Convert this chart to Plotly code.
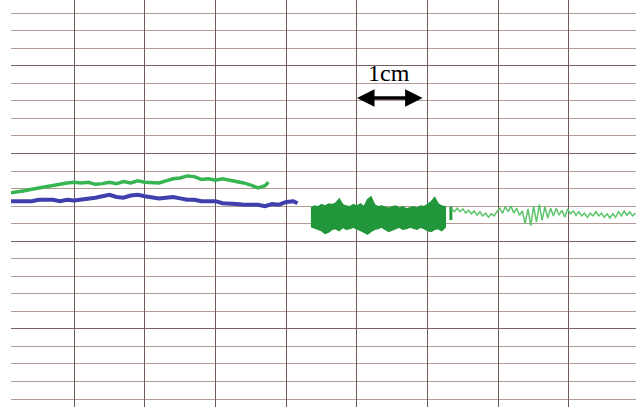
import plotly.graph_objects as go

# Chart-recorder trace. x: paper position in mm, y: pen height in mm
green_x = [1, 2, 3, 4, 5, 6, 7, 8, 9, 10, 11, 12, 13, 14, 15, 16, 17, 18, 19, 20,
           21, 22, 23, 24, 25, 26, 27, 28, 29, 30, 31, 32, 33, 34, 35, 36, 37, 37.5]
green_y = [29.4, 29.5, 29.7, 29.9, 30.1, 30.3, 30.4, 30.6, 30.8, 30.9, 30.8, 30.9,
           30.6, 30.7, 30.9, 30.7, 31.0, 30.8, 31.1, 30.9, 30.9, 30.8, 31.1, 31.4,
           31.5, 31.8, 31.7, 31.3, 31.4, 31.2, 31.4, 31.2, 31.1, 30.8, 30.5, 30.1,
           30.4, 30.9]

blue_x = [1, 2, 3, 4, 5, 6, 7, 8, 9, 10, 11, 12, 13, 14, 15, 16, 17, 18, 19, 20,
          21, 22, 23, 24, 25, 26, 27, 28, 29, 30, 31, 32, 33, 34, 35, 36, 37, 38,
          39, 40, 41, 41.6]
blue_y = [28.2, 28.2, 28.3, 28.2, 28.4, 28.4, 28.4, 28.2, 28.4, 28.3, 28.4, 28.5,
          28.7, 28.9, 29.1, 28.8, 28.7, 29.0, 29.1, 28.9, 28.8, 28.6, 28.7, 28.8,
          28.6, 28.4, 28.4, 28.2, 28.2, 28.2, 27.9, 27.9, 27.8, 27.7, 27.7, 27.7,
          27.5, 27.8, 27.7, 28.1, 28.2, 27.9]

# dense (fast) recording: upper and lower envelope, sampled every 0.5 mm from 43.5 mm
band_start = 43.5
band_step = 0.5
band_upper = [27.2, 27.5, 27.4, 27.7, 27.5, 27.8, 27.7, 27.9, 28.5, 27.7, 27.5, 27.4,
              27.7, 27.5, 27.8, 27.4, 28.4, 28.8, 27.7, 27.4, 27.5, 27.4, 27.2, 27.4,
              27.5, 27.2, 27.4, 27.1, 27.2, 27.4, 27.2, 27.5, 27.4, 27.7, 28.1, 28.7,
              27.8, 27.5, 27.4]
band_lower = [24.6, 24.3, 24.2, 24.0, 23.6, 23.8, 24.2, 24.3, 24.0, 24.5, 24.2, 24.3,
              24.5, 24.2, 24.0, 23.8, 23.5, 23.9, 24.2, 24.3, 24.5, 24.2, 23.9, 24.2,
              24.3, 24.5, 24.2, 24.3, 24.5, 24.3, 24.2, 24.5, 24.3, 24.0, 23.9, 24.2,
              24.3, 24.0, 24.5]

# pen mark at the start of the slow oscillation
pen_x = [63.3, 63.3]
pen_y = [27.4, 25.5]

# slow oscillation, sampled every 0.4 mm from 63.4 mm
osc_start = 63.4
osc_step = 0.4
osc_y = [27.1, 26.7, 27.2, 26.7, 27.1, 26.5, 26.9, 26.4, 26.8, 26.2, 26.7, 26.1,
         26.5, 25.9, 26.4, 26.1, 26.7,
         27.2, 26.5, 27.4, 26.7, 27.5, 26.5, 27.2, 26.2,
         26.8, 25.0, 27.1, 24.7, 27.5, 25.2, 27.7, 25.5, 27.4, 25.8, 27.2,
         26.1, 27.2, 26.2, 26.9, 25.9, 27.1, 26.4,
         26.8, 26.2, 26.7, 26.1, 26.5, 25.9, 26.5, 26.1, 26.7, 26.1, 26.5, 25.9,
         26.4, 25.8, 26.4, 25.9, 26.7, 26.1, 26.8, 26.2, 26.7, 26.1, 26.5]

scale_label = "1cm"
scale_from = 49.8
scale_to = 59.3
scale_level = 42.9

band_x = [band_start + i * band_step for i in range(len(band_upper))]
osc_x = [osc_start + i * osc_step for i in range(len(osc_y))]

fig = go.Figure()
fig.add_trace(go.Scatter(x=green_x, y=green_y, mode="lines",
                         line=dict(color="#36b552", width=3.5, shape="linear")))
fig.add_trace(go.Scatter(x=blue_x, y=blue_y, mode="lines",
                         line=dict(color="#3f3fae", width=4)))
fig.add_trace(go.Scatter(x=band_x + band_x[::-1], y=band_upper + band_lower[::-1],
                         mode="lines", fill="toself", fillcolor="#22963a",
                         line=dict(color="#22963a", width=1.5)))
fig.add_trace(go.Scatter(x=pen_x, y=pen_y, mode="lines",
                         line=dict(color="#2a9a40", width=3)))
fig.add_trace(go.Scatter(x=osc_x, y=osc_y, mode="lines",
                         line=dict(color="#5cc46a", width=1.5)))

fig.add_annotation(x=(scale_from + scale_to) / 2, y=scale_level + 3.5, text=scale_label,
                   showarrow=False, font=dict(family="Liberation Serif", size=24, color="#000000"))
fig.add_annotation(x=scale_to, y=scale_level, ax=scale_from, ay=scale_level,
                   xref="x", yref="y", axref="x", ayref="y", text="",
                   showarrow=True, arrowhead=2, startarrowhead=2, arrowside="end+start",
                   arrowsize=1, startarrowsize=1, arrowwidth=3.5, arrowcolor="#000000")

fig.update_xaxes(range=[1.075, 89.48], showticklabels=False, zeroline=False,
                 showline=False, tick0=0, dtick=10, showgrid=True,
                 gridcolor="#6e5a5a", gridwidth=1.3, ticks="")
fig.update_yaxes(range=[-1.13, 56.87], showticklabels=False, zeroline=False,
                 showline=False, tick0=10, dtick=12.5, showgrid=True,
                 gridcolor="#7a6262", gridwidth=1.3, ticks="",
                 minor=dict(tick0=0, dtick=2.5, showgrid=True, gridcolor="#b19c96",
                            gridwidth=1, ticks=""))
fig.update_layout(width=636, height=407, showlegend=False,
                  margin=dict(l=11, r=0, t=0, b=0, pad=0),
                  paper_bgcolor="#ffffff", plot_bgcolor="#ffffff")

fig.write_html("out.html", config={"displayModeBar": False},
               post_script="document.body.style.margin='0';")
